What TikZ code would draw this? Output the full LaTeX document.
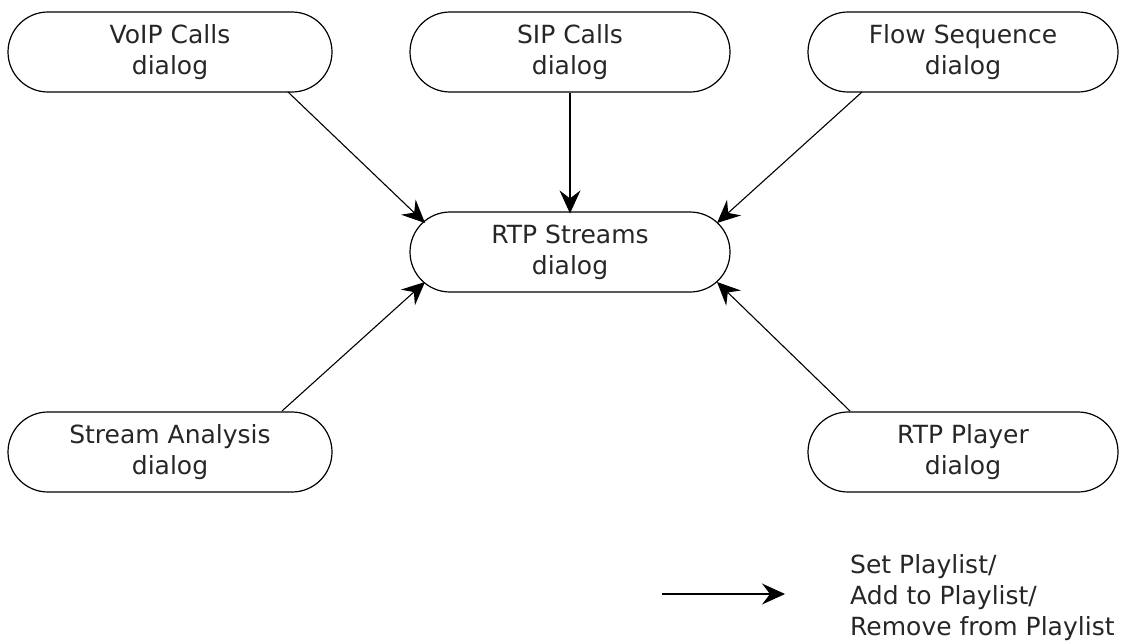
\documentclass[tikz,border=0pt]{standalone}
\usepackage{fontspec}
\setmainfont{DejaVu Sans}
\usetikzlibrary{arrows.meta}
\begin{document}
\begin{tikzpicture}[x=1pt,y=-1pt,
  dlg/.style={draw, line width=1.2pt, rounded corners=40pt, minimum height=80pt, align=center, inner sep=0pt,
    font=\fontsize{25}{31}\selectfont, text=black!85},
  arr/.style={line width=1.1pt, -{Stealth[length=23pt,width=21pt,inset=8pt]}}]
\useasboundingbox (0,0) rectangle (1124,640);
\node[dlg, minimum width=324pt] (voip) at (170,52) {VoIP Calls\\dialog};
\node[dlg, minimum width=320pt] (sip) at (570,52) {SIP Calls\\dialog};
\node[dlg, minimum width=310pt] (flow) at (963,52) {Flow Sequence\\dialog};
\node[dlg, minimum width=320pt] (rtp) at (570,252) {RTP Streams\\dialog};
\node[dlg, minimum width=324pt] (sa) at (170,452) {Stream Analysis\\dialog};
\node[dlg, minimum width=310pt] (player) at (963,452) {RTP Player\\dialog};
\draw[arr] ([shift={(118,40)}]voip.center) -- ([shift={(-145,-29)}]rtp.center);
\draw[arr] (sip.south) -- ([yshift=-2]rtp.north);
\draw[arr] ([shift={(-101,40)}]flow.center) -- ([shift={(147,-29)}]rtp.center);
\draw[arr] ([shift={(112,-41)}]sa.center) -- ([shift={(-145,30)}]rtp.center);
\draw[arr] ([shift={(-113,-41)}]player.center) -- ([shift={(147,30)}]rtp.center);
\coordinate (ls) at (662,594);
\coordinate (le) at (785,594);
\draw[arr] (ls) -- (le);
\node[anchor=west, inner sep=0pt, align=left, font=\fontsize{25}{31}\selectfont, text=black!85] (legend) at (850,598) {Set Playlist/\\Add to Playlist/\\Remove from Playlist};
\end{tikzpicture}
\end{document}
